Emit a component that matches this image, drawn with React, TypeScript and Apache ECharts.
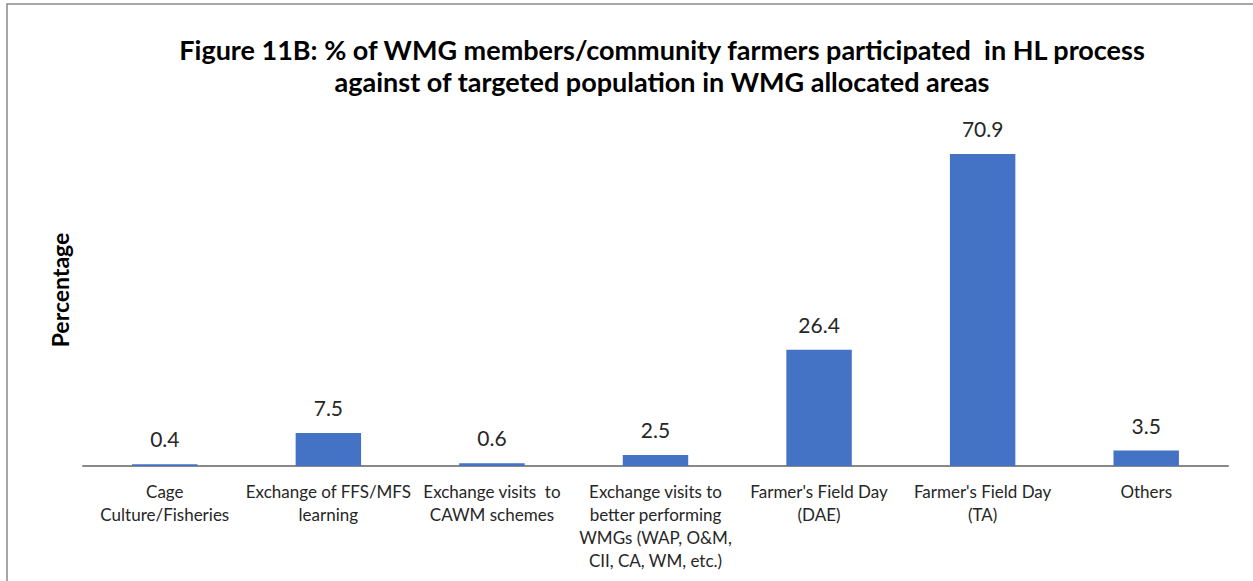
import React, { useEffect, useRef } from "react";
import * as echarts from "echarts";

const categories: string[] = [
  "Cage\nCulture/Fisheries",
  "Exchange of FFS/MFS\nlearning",
  "Exchange visits  to\nCAWM schemes",
  "Exchange visits to\nbetter performing\nWMGs (WAP, O&M,\nCII, CA, WM, etc.)",
  "Farmer's Field Day\n(DAE)",
  "Farmer's Field Day\n(TA)",
  "Others",
];
const values: number[] = [0.4, 7.5, 0.6, 2.5, 26.4, 70.9, 3.5];
const titleText =
  "Figure 11B: % of WMG members/community farmers participated  in HL process\nagainst of targeted population in WMG allocated areas";
const yAxisName = "Percentage";

export default function App() {
  const ref = useRef<HTMLDivElement>(null);
  useEffect(() => {
    if (!ref.current) return;
    const chart = echarts.init(ref.current, null, { renderer: "svg" });
    const font = "Lato, 'Open Sans', 'Noto Sans', sans-serif";
    chart.setOption({
      animation: false,
      backgroundColor: "#ffffff",
      textStyle: { fontFamily: font },
      title: {
        text: titleText,
        left: 657,
        textAlign: "center",
        top: 28,
        textStyle: {
          fontFamily: font,
          fontSize: 27,
          fontWeight: "bold",
          color: "#000000",
          lineHeight: 32,
        },
      },
      graphic: [
        {
          type: "rect",
          shape: { x: 7, y: 4, width: 1400, height: 700 },
          style: { fill: "none", stroke: "#898989", lineWidth: 1.5 },
          silent: true,
          z: -1,
        },
      ],
      grid: { left: 83, right: 25, top: 114, bottom: 115, containLabel: false },
      xAxis: {
        type: "category",
        data: categories,
        axisLine: { show: true, lineStyle: { color: "#898989", width: 2 } },
        axisTick: { show: false },
        axisLabel: {
          interval: 0,
          fontSize: 17,
          color: "#262626",
          lineHeight: 23,
          margin: 14,
          fontFamily: font,
        },
      },
      yAxis: {
        type: "value",
        min: 0,
        max: 80,
        name: yAxisName,
        nameLocation: "middle",
        nameGap: 12,
        nameTextStyle: {
          fontSize: 23,
          fontWeight: "bold",
          color: "#000000",
          fontFamily: font,
        },
        axisLabel: { show: false },
        axisLine: { show: false },
        axisTick: { show: false },
        splitLine: { show: false },
      },
      series: [
        {
          type: "bar",
          data: values,
          barWidth: "40%",
          itemStyle: { color: "#4472C4" },
          label: {
            show: true,
            position: "top",
            distance: 15,
            fontSize: 21,
            color: "#262626",
            fontFamily: font,
            formatter: (p: any) => p.value.toFixed(1),
          },
        },
      ],
    });
    return () => chart.dispose();
  }, []);
  return (
    <div
      ref={ref}
      style={{ position: "fixed", left: 0, top: 0, width: 1253, height: 581 }}
    />
  );
}
